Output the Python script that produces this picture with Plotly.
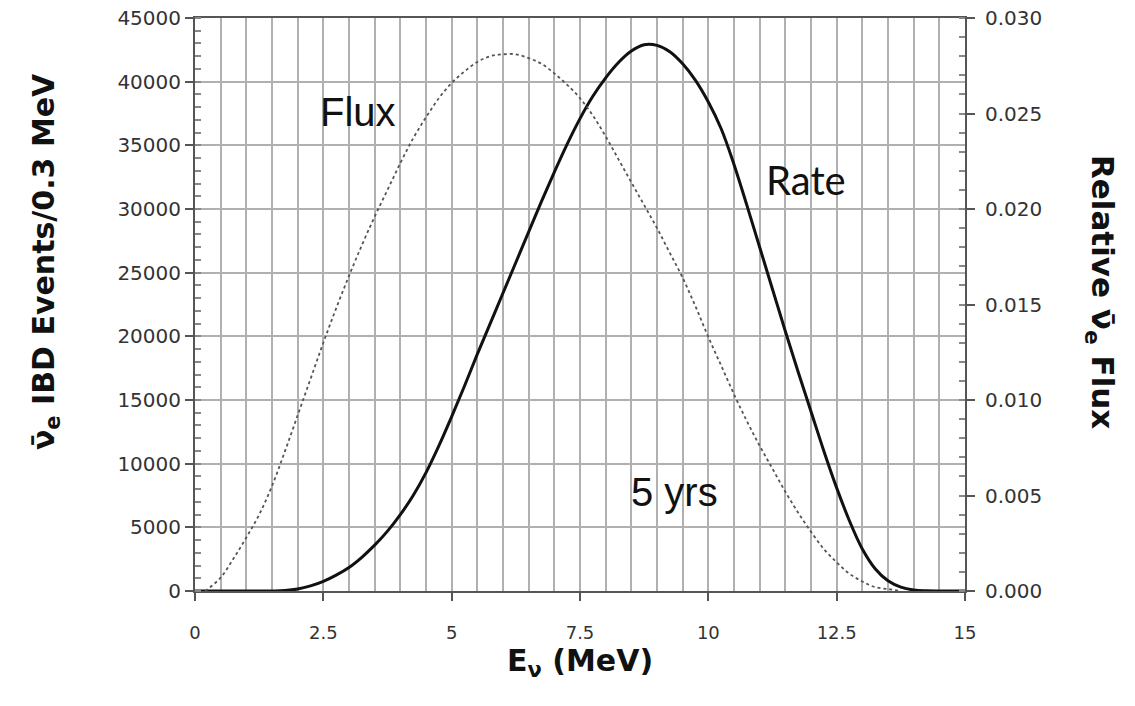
import plotly.graph_objects as go

# Rate curve (IBD events / 0.3 MeV, left axis)
rate_E = [0, 0.5, 1.0, 1.5, 1.75, 2.0, 2.25, 2.5, 2.75, 3.0, 3.25, 3.5, 3.75, 4.0, 4.25, 4.5, 4.75,
          5.0, 5.25, 5.5, 5.75, 6.0, 6.25, 6.5, 6.75, 7.0, 7.25, 7.5, 7.75, 8.0, 8.25, 8.5, 8.75,
          9.0, 9.25, 9.5, 9.75, 10.0, 10.25, 10.5, 10.75, 11.0, 11.25, 11.5, 11.75, 12.0, 12.25,
          12.5, 12.75, 13.0, 13.25, 13.5, 13.75, 14.0, 14.25, 14.5, 15.0]
rate_val = [0, 0, 0, 0, 30, 150, 400, 760, 1250, 1850, 2650, 3600, 4700, 6000, 7500, 9300, 11400,
            13700, 16100, 18600, 21000, 23400, 25800, 28200, 30600, 32900, 35100, 37100, 38850, 40300, 41500, 42400, 42900,
            42850, 42350, 41400, 40100, 38400, 36300, 33500, 30300, 27000, 23700, 20400, 17200, 14100, 11000,
            8100, 5500, 3300, 1750, 800, 300, 80, 15, 0, 0]

# Relative flux curve (right axis)
flux_E = [0.2, 0.25, 0.5, 0.75, 1.0, 1.25, 1.5, 1.75, 2.0, 2.25, 2.5, 2.75, 3.0, 3.25, 3.5, 3.75, 4.0,
          4.25, 4.5, 4.75, 5.0, 5.25, 5.5, 5.75, 6.0, 6.25, 6.5, 6.75, 7.0, 7.25, 7.5, 7.75, 8.0,
          8.25, 8.5, 8.75, 9.0, 9.25, 9.5, 9.75, 10.0, 10.25, 10.5, 10.75, 11.0, 11.25, 11.5, 11.75,
          12.0, 12.25, 12.5, 12.75, 13.0, 13.25, 13.5, 13.75]
flux_val = [0.0, 0.0001, 0.0007, 0.0017, 0.0028, 0.0040, 0.0055, 0.0073, 0.0092, 0.0111, 0.0130, 0.0148, 0.0165,
            0.0181, 0.0196, 0.0210, 0.0224, 0.0237, 0.0248, 0.0258, 0.0266, 0.0272, 0.0277, 0.0280, 0.0281,
            0.0281, 0.0279, 0.0276, 0.0271, 0.0265, 0.0258, 0.0249, 0.0238, 0.0226, 0.0214, 0.0202, 0.0190,
            0.0177, 0.0164, 0.0149, 0.0133, 0.0118, 0.0103, 0.0089, 0.0076, 0.0064, 0.0052, 0.0041, 0.0031,
            0.0022, 0.0015, 0.0009, 0.0005, 0.0002, 0.0001, 0.0]

x_ticks = [0, 2.5, 5, 7.5, 10, 12.5, 15]
x_ticklabels = ["0", "2.5", "5", "7.5", "10", "12.5", "15"]
y_ticks = [0, 5000, 10000, 15000, 20000, 25000, 30000, 35000, 40000, 45000]
y_ticklabels = ["0", "5000", "10000", "15000", "20000", "25000", "30000", "35000", "40000", "45000"]
y2_ticks = [0, 0.005, 0.010, 0.015, 0.020, 0.025, 0.030]
y2_ticklabels = ["0.000", "0.005", "0.010", "0.015", "0.020", "0.025", "0.030"]

ytickfont = dict(family="DejaVu Sans", size=20, color="#333333")
xtickfont = dict(family="DejaVu Sans", size=18, color="#333333")
grid_col = "#b0b0b0"
frame_col = "#555555"

fig = go.Figure()
fig.add_trace(go.Scatter(x=flux_E, y=flux_val, mode="lines", yaxis="y2",
                         line=dict(color="#555555", width=1.8, dash="dot", shape="spline", smoothing=1.0),
                         hoverinfo="skip", showlegend=False))
fig.add_trace(go.Scatter(x=rate_E, y=rate_val, mode="lines",
                         line=dict(color="#111111", width=3, shape="spline", smoothing=1.0),
                         hoverinfo="skip", showlegend=False))

fig.update_layout(
    width=1135, height=706,
    margin=dict(l=195, r=170, t=18, b=115),
    paper_bgcolor="white", plot_bgcolor="white",
    showlegend=False,
    xaxis=dict(range=[0, 15], tickvals=x_ticks, ticktext=x_ticklabels,
               ticks="outside", ticklen=8, tickcolor=frame_col, tickwidth=1.5,
               ticklabelstandoff=16, automargin=False,
               showgrid=True, gridcolor=grid_col, gridwidth=2,
               minor=dict(dtick=0.5, showgrid=True, gridcolor=grid_col, gridwidth=2, ticks=""),
               showline=True, linecolor=frame_col, linewidth=2, mirror=True,
               tickfont=xtickfont, zeroline=False, fixedrange=True),
    yaxis=dict(range=[0, 45000], tickvals=y_ticks, ticktext=y_ticklabels,
               ticks="outside", ticklen=8, tickcolor=frame_col, tickwidth=1.5,
               automargin=False,
               showgrid=True, gridcolor=grid_col, gridwidth=2,
               minor=dict(dtick=1000, ticks="inside", ticklen=6, tickcolor="#888888", showgrid=False),
               showline=True, linecolor=frame_col, linewidth=2,
               tickfont=ytickfont, zeroline=False, fixedrange=True),
    yaxis2=dict(range=[0, 0.03], tickvals=y2_ticks, ticktext=y2_ticklabels,
                overlaying="y", side="right",
                ticks="outside", ticklen=8, tickcolor=frame_col, tickwidth=1.5,
                ticklabelstandoff=6, automargin=False,
                showgrid=False,
                minor=dict(dtick=0.001, ticks="inside", ticklen=6, tickcolor="#888888", showgrid=False),
                showline=True, linecolor=frame_col, linewidth=2,
                tickfont=ytickfont, zeroline=False, fixedrange=True),
)

title_font = dict(family="DejaVu Sans", size=30, color="#111111")
fig.add_annotation(text="<b>ν̄<sub>e</sub> IBD Events/0.3 MeV</b>", xref="paper", yref="paper",
                   x=-0.1948, y=0.574, xanchor="center", yanchor="middle",
                   textangle=-90, showarrow=False, font=title_font)
fig.add_annotation(text="<b>Relative ν̄<sub>e</sub> Flux</b>", xref="paper", yref="paper",
                   x=1.1753, y=0.522, xanchor="center", yanchor="middle",
                   textangle=90, showarrow=False, font=dict(family="DejaVu Sans", size=31, color="#111111"))
fig.add_annotation(text="<b>E<sub>ν</sub> (MeV)</b>", xref="paper", yref="paper",
                   x=0.5, y=0.0, xanchor="center", yanchor="middle",
                   showarrow=False, font=dict(family="DejaVu Sans", size=30, color="#111111"),
                   yshift=-71)

fig.add_annotation(text="Flux", x=3.17, y=37600, xref="x", yref="y", showarrow=False,
                   font=dict(family="Liberation Sans", size=40, color="#111111"))
fig.add_annotation(text="Rate", x=11.9, y=32300, xref="x", yref="y", showarrow=False,
                   font=dict(family="Lato", size=40, color="#111111"))
fig.add_annotation(text="5 yrs", x=9.35, y=7800, xref="x", yref="y", showarrow=False,
                   font=dict(family="Liberation Sans", size=40, color="#111111"))

fig.write_html("out.html")
